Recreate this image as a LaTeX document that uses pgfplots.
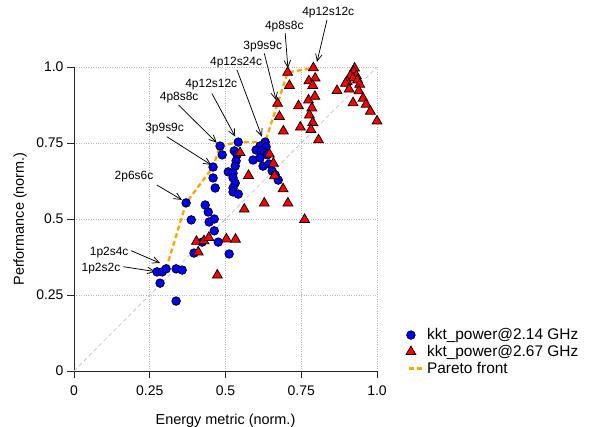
\documentclass[border=0pt]{standalone}
\usepackage{pgfplots}
\pgfplotsset{compat=1.18}
\usepackage{pgfplotstable}
\usepackage{fontspec}
\setmainfont{Liberation Sans}
\usetikzlibrary{arrows.meta}
\definecolor{rblue}{RGB}{0,0,255}
\definecolor{rred}{RGB}{255,0,0}
\definecolor{rorange}{RGB}{255,165,0}

\pgfplotsset{
  markleg/.style={legend image code/.code={\draw[mark repeat=2,mark phase=2,##1] plot coordinates {(0bp,0bp) (4bp,0bp) (8bp,0bp)};}},
  lineleg/.style={legend image code/.code={\draw[##1] (2bp,0bp) -- (17bp,0bp);}},
}

\pgfplotstableread{
x y
0.274 0.326
0.291 0.326
0.304 0.336
0.284 0.289
0.337 0.336
0.357 0.332
0.337 0.230
0.370 0.553
0.387 0.497
0.433 0.546
0.443 0.523
0.446 0.490
0.463 0.500
0.463 0.461
0.476 0.424
0.423 0.424
0.396 0.388
0.512 0.385
0.459 0.671
0.459 0.635
0.466 0.602
0.482 0.740
0.489 0.711
0.542 0.753
0.529 0.724
0.538 0.711
0.535 0.691
0.532 0.674
0.509 0.655
0.525 0.651
0.525 0.635
0.532 0.618
0.525 0.602
0.525 0.589
0.542 0.582
0.631 0.753
0.614 0.740
0.634 0.737
0.601 0.727
0.618 0.724
0.628 0.717
0.638 0.711
0.591 0.694
0.614 0.701
0.624 0.674
0.644 0.681
0.654 0.658
0.664 0.645
0.674 0.628
}\bluedata

\pgfplotstableread{
x y
0.705 0.982
0.790 0.997
0.711 0.939
0.672 0.880
0.678 0.837
0.691 0.789
0.741 0.872
0.747 0.802
0.775 0.954
0.796 0.963
0.788 0.939
0.774 0.891
0.795 0.903
0.785 0.865
0.777 0.842
0.788 0.817
0.782 0.794
0.807 0.760
0.926 0.996
0.923 0.985
0.912 0.971
0.932 0.971
0.921 0.963
0.901 0.952
0.936 0.957
0.896 0.946
0.943 0.943
0.868 0.922
0.908 0.927
0.940 0.921
0.954 0.897
0.921 0.882
0.964 0.877
0.978 0.854
1.000 0.822
0.548 0.718
0.576 0.643
0.562 0.532
0.645 0.713
0.658 0.683
0.662 0.642
0.690 0.599
0.628 0.552
0.706 0.552
0.761 0.498
0.404 0.426
0.429 0.428
0.445 0.439
0.503 0.434
0.533 0.433
0.410 0.391
0.473 0.315
}\reddata

\pgfplotstableread{
x y
0.279 0.329
0.304 0.336
0.370 0.553
0.459 0.671
0.482 0.740
0.542 0.753
0.631 0.753
0.672 0.880
0.705 0.982
0.790 0.997
}\paretodata

\begin{document}
\begin{tikzpicture}
\begin{axis}[
  at={(0,0)}, anchor=south west,
  width=303bp, height=304bp, scale only axis,
  xmin=0, xmax=1, ymin=0, ymax=1,
  axis lines*=left,
  axis line style={line width=0.9bp, black!85},
  clip=false,
  xtick={0,0.25,0.5,0.75,1}, xticklabels={0,0.25,0.5,0.75,1.0},
  ytick={0,0.25,0.5,0.75,1}, yticklabels={0,0.25,0.5,0.75,1.0},
  tick align=outside, major tick length=7bp,
  tick style={black!85, line width=0.8bp},
  grid=major, major grid style={gray!55, dotted, line width=0.7bp},
  ticklabel style={font=\fontsize{14}{16}\selectfont},
  xticklabel style={yshift=-4bp},
  /pgf/number format/assume math mode=true,
  xlabel={Energy metric (norm.)}, ylabel={Performance (norm.)},
  label style={font=\fontsize{14.5}{17}\selectfont},
  xlabel style={at={(axis description cs:0.5,-0.165)}, anchor=center},
  ylabel style={at={(axis description cs:-0.178,0.5)}, anchor=center},
  legend cell align=left,
  legend style={font=\fontsize{15.5}{17}\selectfont, draw=none, fill=none,
    at={(1.095,0.143)}, anchor=north west, inner sep=0pt,
    row sep=2bp, column sep=1bp, nodes={inner sep=1bp}},
]
\addplot[forget plot, gray!45, dash pattern=on 4bp off 3bp, line width=0.8bp] coordinates {(0,0) (1,1)};

\addplot[only marks, mark=*, mark size=4.3bp,
  mark options={fill=rblue, draw=black, line width=0.75bp}, markleg]
  table[x=x,y=y] {\bluedata};
\addlegendentry{kkt\_power@2.14 GHz}

\addplot[only marks, mark=triangle*, mark size=5.7bp,
  mark options={fill=rred, draw=black, line width=0.75bp}, markleg]
  table[x=x,y=y] {\reddata};
\addlegendentry{kkt\_power@2.67 GHz}

\addplot[rorange, line width=2.3bp, dash pattern=on 5bp off 3bp, no marks, lineleg]
  table[x=x,y=y] {\paretodata};
\addlegendentry{Pareto front}

\tikzset{ann/.style={font=\fontsize{12}{14}\selectfont, inner sep=0pt},
         arr/.style={-{Straight Barb[length=7bp,width=6.5bp]}, line width=0.75bp}}
\draw[arr] (axis cs:0.835,1.155) -- (axis cs:0.802,1.017);
\node[ann] at (axis cs:0.839,1.178) {4p12s12c};
\draw[arr] (axis cs:0.697,1.111) -- (axis cs:0.706,0.996);
\node[ann] at (axis cs:0.694,1.132) {4p8s8c};
\draw[arr] (axis cs:0.628,1.045) -- (axis cs:0.667,0.891);
\node[ann] at (axis cs:0.623,1.066) {3p9s9c};
\draw[arr] (axis cs:0.538,0.990) -- (axis cs:0.620,0.771);
\node[ann] at (axis cs:0.535,1.013) {4p12s24c};
\draw[arr] (axis cs:0.455,0.913) -- (axis cs:0.532,0.771);
\node[ann] at (axis cs:0.453,0.941) {4p12s12c};
\draw[arr] (axis cs:0.345,0.875) -- (axis cs:0.471,0.751);
\node[ann] at (axis cs:0.347,0.898) {4p8s8c};
\draw[arr] (axis cs:0.306,0.771) -- (axis cs:0.453,0.678);
\node[ann] at (axis cs:0.299,0.796) {3p9s9c};
\draw[arr] (axis cs:0.273,0.612) -- (axis cs:0.356,0.563);
\node[ann] at (axis cs:0.198,0.638) {2p6s6c};
\draw[arr] (axis cs:0.188,0.396) -- (axis cs:0.284,0.355);
\node[ann] at (axis cs:0.116,0.389) {1p2s4c};
\draw[arr] (axis cs:0.163,0.343) -- (axis cs:0.268,0.327);
\node[ann] at (axis cs:0.089,0.336) {1p2s2c};
\end{axis}
\pgfresetboundingbox
\path[use as bounding box] (-74bp,-56bp) rectangle (516bp,371bp);
\end{tikzpicture}
\end{document}
